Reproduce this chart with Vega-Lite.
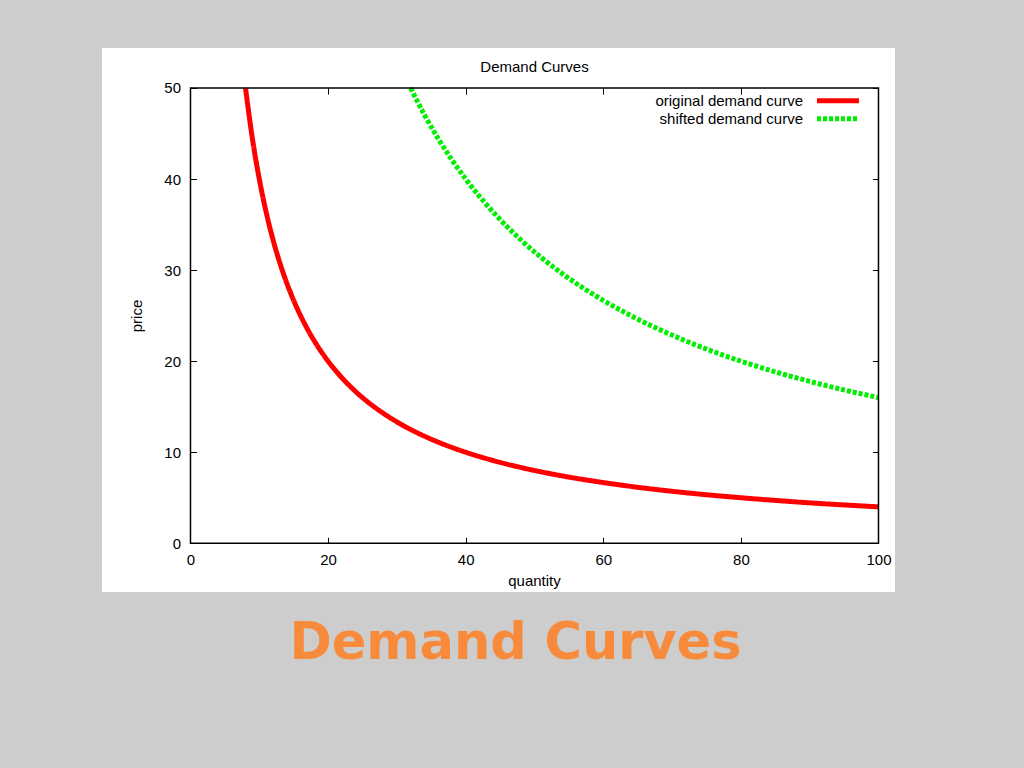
{
  "$schema": "https://vega.github.io/schema/vega-lite/v6.json",
  "width": 793,
  "height": 544,
  "autosize": {"type": "none"},
  "padding": {"left": 102, "top": 48, "right": 129, "bottom": 176},
  "background": "#cdcdcd",
  "title": {
    "text": "Demand Curves",
    "orient": "bottom",
    "anchor": "middle",
    "frame": "group",
    "offset": 27,
    "dx": 17,
    "font": "DejaVu Sans",
    "fontWeight": "bold",
    "fontSize": 51,
    "color": "#f88b3b"
  },
  "config": {
    "view": {"fill": "white", "stroke": null},
    "font": "Liberation Sans",
    "axis": {
      "domain": false,
      "grid": false,
      "tickColor": "#000",
      "tickSize": -6,
      "tickWidth": 1,
      "labelColor": "#000",
      "labelFontSize": 15,
      "labelFont": "Liberation Sans",
      "labelFlush": false,
      "labelOverlap": false,
      "labelBound": false,
      "titleFont": "Liberation Sans",
      "titleFontSize": 15,
      "titleFontWeight": "normal",
      "titleColor": "#000"
    }
  },
  "layer": [
    {
      "data": {
        "values": [
          {"series": "original demand curve", "quantity": 8, "price": 50},
          {"series": "original demand curve", "quantity": 9, "price": 44.44},
          {"series": "original demand curve", "quantity": 10, "price": 40},
          {"series": "original demand curve", "quantity": 11, "price": 36.36},
          {"series": "original demand curve", "quantity": 12, "price": 33.33},
          {"series": "original demand curve", "quantity": 13, "price": 30.77},
          {"series": "original demand curve", "quantity": 14, "price": 28.57},
          {"series": "original demand curve", "quantity": 15, "price": 26.67},
          {"series": "original demand curve", "quantity": 16, "price": 25},
          {"series": "original demand curve", "quantity": 17, "price": 23.53},
          {"series": "original demand curve", "quantity": 18, "price": 22.22},
          {"series": "original demand curve", "quantity": 20, "price": 20},
          {"series": "original demand curve", "quantity": 22, "price": 18.18},
          {"series": "original demand curve", "quantity": 24, "price": 16.67},
          {"series": "original demand curve", "quantity": 26, "price": 15.38},
          {"series": "original demand curve", "quantity": 28, "price": 14.29},
          {"series": "original demand curve", "quantity": 30, "price": 13.33},
          {"series": "original demand curve", "quantity": 33, "price": 12.12},
          {"series": "original demand curve", "quantity": 36, "price": 11.11},
          {"series": "original demand curve", "quantity": 40, "price": 10},
          {"series": "original demand curve", "quantity": 44, "price": 9.09},
          {"series": "original demand curve", "quantity": 48, "price": 8.33},
          {"series": "original demand curve", "quantity": 52, "price": 7.69},
          {"series": "original demand curve", "quantity": 56, "price": 7.14},
          {"series": "original demand curve", "quantity": 60, "price": 6.67},
          {"series": "original demand curve", "quantity": 65, "price": 6.15},
          {"series": "original demand curve", "quantity": 70, "price": 5.71},
          {"series": "original demand curve", "quantity": 75, "price": 5.33},
          {"series": "original demand curve", "quantity": 80, "price": 5},
          {"series": "original demand curve", "quantity": 85, "price": 4.71},
          {"series": "original demand curve", "quantity": 90, "price": 4.44},
          {"series": "original demand curve", "quantity": 95, "price": 4.21},
          {"series": "original demand curve", "quantity": 100, "price": 4},
          {"series": "shifted demand curve", "quantity": 32, "price": 50},
          {"series": "shifted demand curve", "quantity": 34, "price": 47.06},
          {"series": "shifted demand curve", "quantity": 36, "price": 44.44},
          {"series": "shifted demand curve", "quantity": 38, "price": 42.11},
          {"series": "shifted demand curve", "quantity": 40, "price": 40},
          {"series": "shifted demand curve", "quantity": 42, "price": 38.1},
          {"series": "shifted demand curve", "quantity": 45, "price": 35.56},
          {"series": "shifted demand curve", "quantity": 48, "price": 33.33},
          {"series": "shifted demand curve", "quantity": 51, "price": 31.37},
          {"series": "shifted demand curve", "quantity": 54, "price": 29.63},
          {"series": "shifted demand curve", "quantity": 57, "price": 28.07},
          {"series": "shifted demand curve", "quantity": 60, "price": 26.67},
          {"series": "shifted demand curve", "quantity": 64, "price": 25},
          {"series": "shifted demand curve", "quantity": 68, "price": 23.53},
          {"series": "shifted demand curve", "quantity": 72, "price": 22.22},
          {"series": "shifted demand curve", "quantity": 76, "price": 21.05},
          {"series": "shifted demand curve", "quantity": 80, "price": 20},
          {"series": "shifted demand curve", "quantity": 85, "price": 18.82},
          {"series": "shifted demand curve", "quantity": 90, "price": 17.78},
          {"series": "shifted demand curve", "quantity": 95, "price": 16.84},
          {"series": "shifted demand curve", "quantity": 100, "price": 16}
        ]
      },
      "mark": {"type": "line", "strokeWidth": 5, "interpolate": "monotone", "strokeCap": "butt"},
      "encoding": {
        "x": {
          "field": "quantity",
          "type": "quantitative",
          "scale": {"domain": [-12.86, 102.4], "nice": false, "zero": false},
          "axis": {"orient": "bottom", "offset": -48.7, "values": [0, 20, 40, 60, 80, 100], "labelPadding": 15, "title": "quantity", "titleX": 432, "titleY": 42.5, "titleBaseline": "alphabetic", "titleAlign": "center"}
        },
        "y": {
          "field": "price",
          "type": "quantitative",
          "scale": {"domain": [-5.35, 54.39], "nice": false, "zero": false},
          "axis": {"orient": "left", "offset": -88.5, "values": [0, 10, 20, 30, 40, 50], "labelPadding": 16, "title": "price", "titleX": -46, "titleY": 267.5, "titleBaseline": "bottom", "titleAlign": "center", "titleAngle": -90}
        },
        "color": {
          "field": "series",
          "type": "nominal",
          "scale": {"domain": ["original demand curve", "shifted demand curve"], "range": ["#ff0000", "#00ee00"]},
          "legend": {"orient": "none", "legendX": 728, "legendY": 44.7, "title": null, "symbolType": "M-4,0H4", "symbolSize": 110, "symbolStrokeWidth": 5, "labelAlign": "right", "labelOffset": -43, "labelFontSize": 15, "labelFont": "Liberation Sans", "labelColor": "#000", "labelLimit": 400, "rowPadding": -3.8, "padding": 0}
        },
        "strokeDash": {
          "field": "series",
          "type": "nominal",
          "scale": {"domain": ["original demand curve", "shifted demand curve"], "range": [[1, 0], [4, 2]]},
          "legend": {"orient": "none", "legendX": 728, "legendY": 44.7, "title": null, "symbolType": "M-4,0H4", "symbolSize": 110, "symbolStrokeWidth": 5, "labelAlign": "right", "labelOffset": -43, "labelFontSize": 15, "labelFont": "Liberation Sans", "labelColor": "#000", "labelLimit": 400, "rowPadding": -3.8, "padding": 0}
        }
      }
    },
    {
      "data": {"values": [{}]},
      "mark": {"type": "rect", "filled": false, "fill": null, "stroke": "#000", "strokeWidth": 1.5},
      "encoding": {
        "x": {
          "datum": 0,
          "type": "quantitative",
          "scale": {"domain": [-12.86, 102.4], "nice": false, "zero": false},
          "axis": {"orient": "top", "offset": -40, "values": [0, 20, 40, 60, 80, 100], "labels": false, "title": "Demand Curves", "titleX": 432, "titleY": -17, "titleBaseline": "alphabetic", "titleAlign": "center"}
        },
        "x2": {"datum": 100},
        "y": {
          "datum": 0,
          "type": "quantitative",
          "scale": {"domain": [-5.35, 54.39], "nice": false, "zero": false},
          "axis": {"orient": "right", "offset": -16.5, "values": [0, 10, 20, 30, 40, 50], "labels": false, "title": null}
        },
        "y2": {"datum": 50}
      }
    }
  ],
  "resolve": {"axis": {"x": "independent", "y": "independent"}}
}
